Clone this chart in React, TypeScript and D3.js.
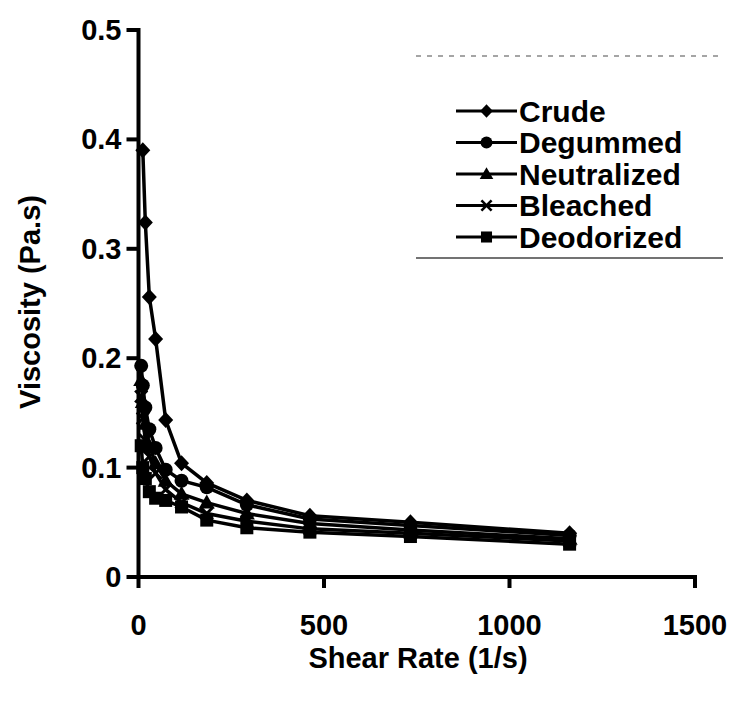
import React from "react";
import * as d3 from "d3";

const shearRate = [4.6, 7.3, 11.6, 18.4, 29.2, 46.2, 73.3, 116, 184, 292, 462, 733, 1162];
const seriesNames = ["Crude", "Degummed", "Neutralized", "Bleached", "Deodorized"];
const crude = [null, null, 0.39, 0.324, 0.256, 0.2175, 0.1435, 0.104, 0.086, 0.07, 0.056, 0.05, 0.04];
const degummed = [null, 0.193, 0.175, 0.155, 0.135, 0.118, 0.098, 0.088, 0.082, 0.066, 0.053, 0.047, 0.038];
const neutralized = [null, 0.18, 0.16, 0.14, 0.12, 0.104, 0.088, 0.076, 0.068, 0.058, 0.049, 0.043, 0.035];
const bleached = [null, 0.165, 0.145, 0.125, 0.11, 0.095, 0.08, 0.068, 0.058, 0.051, 0.044, 0.04, 0.033];
const deodorized = [null, 0.12, 0.1, 0.09, 0.078, 0.072, 0.07, 0.064, 0.052, 0.045, 0.041, 0.037, 0.03];
const xTicks = [0, 500, 1000, 1500];
const yTicks = [0, 0.1, 0.2, 0.3, 0.4, 0.5];
const markerTypes = ["diamond", "circle", "triangle", "cross", "square"];

const allValues = [crude, degummed, neutralized, bleached, deodorized];

const FONT = "'Liberation Sans', Arial, sans-serif";

function Marker({ type, cx, cy, s = 1 }: { type: string; cx: number; cy: number; s?: number }) {
  const tr = `translate(${cx},${cy}) scale(${s})`;
  if (type === "cross") {
    const r = 6;
    return (
      <g transform={tr} stroke="#000" strokeWidth={3}>
        <line x1={-r} y1={-r} x2={r} y2={r} />
        <line x1={-r} y1={r} x2={r} y2={-r} />
      </g>
    );
  }
  if (type === "diamond") {
    return <path d="M0,-8L7.5,0L0,8L-7.5,0Z" transform={tr} fill="#000" />;
  }
  if (type === "circle") {
    return <circle r={7} transform={tr} fill="#000" />;
  }
  if (type === "triangle") {
    return <path d="M0,-8L8,6L-8,6Z" transform={tr} fill="#000" />;
  }
  return <rect x={-6.5} y={-6.5} width={13} height={13} transform={tr} fill="#000" />;
}

export default function App() {
  const x = d3.scaleLinear().domain([0, 1500]).range([138.5, 695]);
  const y = d3.scaleLinear().domain([0, 0.5]).range([577, 30]);
  const line = d3
    .line<[number, number | null]>()
    .defined((d) => d[1] !== null)
    .x((d) => x(d[0]))
    .y((d) => y(d[1] as number));

  const legendX0 = 456;
  const legendX1 = 517;
  const legendY0 = 111;
  const legendDy = 31.5;

  return (
    <svg
      width={731}
      height={701}
      style={{ position: "absolute", left: 0, top: 0, background: "#fff" }}
      fontFamily={FONT}
    >
      <rect width={731} height={701} fill="#fff" />
      {allValues.map((vals, i) => {
        const pts = shearRate.map((s, j) => [s, vals[j]] as [number, number | null]);
        return <path key={"l" + i} d={line(pts) || ""} fill="none" stroke="#000" strokeWidth={3.5} />;
      })}
      {allValues.map((vals, i) =>
        shearRate.map((s, j) =>
          vals[j] === null ? null : (
            <Marker key={`m${i}-${j}`} type={markerTypes[i]} cx={x(s)} cy={y(vals[j] as number)} />
          )
        )
      )}
      <line x1={x(0)} x2={x(0)} y1={y(0.5) - 2} y2={y(0) + 2} stroke="#000" strokeWidth={4} />
      <line x1={x(0) - 2} x2={x(1500) + 2} y1={y(0)} y2={y(0)} stroke="#000" strokeWidth={4} />
      {yTicks.map((t) => (
        <g key={"yt" + t}>
          <line x1={x(0) - 12} x2={x(0)} y1={y(t)} y2={y(t)} stroke="#000" strokeWidth={4} />
          <text
            x={x(0) - 17}
            y={y(t)}
            textAnchor="end"
            dominantBaseline="central"
            fontSize={29}
            fontWeight="bold"
          >
            {t === 0 ? "0" : d3.format(".1f")(t)}
          </text>
        </g>
      ))}
      {xTicks.map((t) => (
        <g key={"xt" + t}>
          <line x1={x(t)} x2={x(t)} y1={y(0)} y2={y(0) + 11} stroke="#000" strokeWidth={4} />
          <text x={x(t)} y={y(0) + 58} textAnchor="middle" fontSize={29} fontWeight="bold">
            {t}
          </text>
        </g>
      ))}
      <text x={418} y={668} textAnchor="middle" fontSize={29} fontWeight="bold">
        Shear Rate (1/s)
      </text>
      <text
        transform={`translate(40,302) rotate(-90)`}
        textAnchor="middle"
        fontSize={29}
        fontWeight="bold"
      >
        Viscosity (Pa.s)
      </text>
      <line x1={416} x2={723} y1={56} y2={56} stroke="#888" strokeWidth={1.5} strokeDasharray="5 6" />
      <line x1={416} x2={723} y1={258} y2={258} stroke="#444" strokeWidth={1.5} />
      {seriesNames.map((n, i) => {
        const ly = legendY0 + i * legendDy;
        return (
          <g key={"lg" + i}>
            <line x1={legendX0} x2={legendX1} y1={ly} y2={ly} stroke="#000" strokeWidth={3} />
            <Marker type={markerTypes[i]} cx={(legendX0 + legendX1) / 2} cy={ly} s={0.85} />
            <text x={legendX1 + 2} y={ly} dominantBaseline="central" fontSize={30} fontWeight="bold">
              {n}
            </text>
          </g>
        );
      })}
    </svg>
  );
}
